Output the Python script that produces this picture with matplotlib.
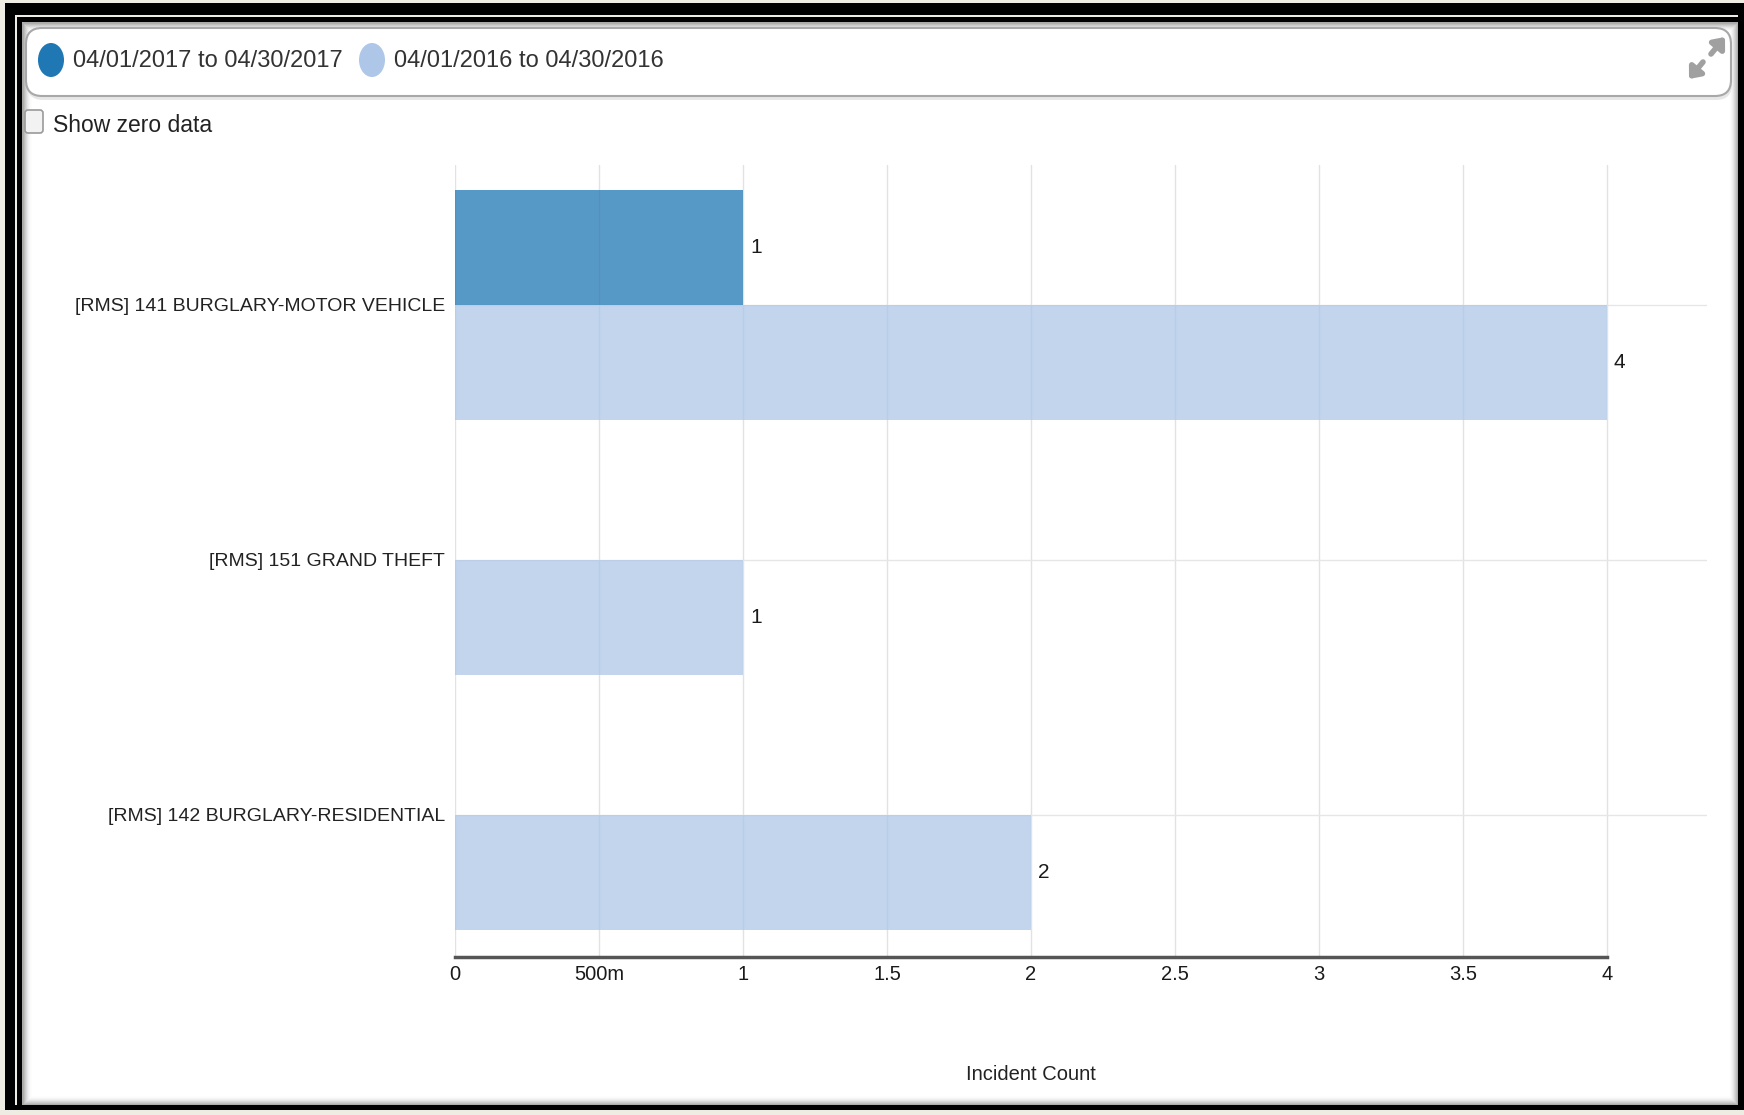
import matplotlib
matplotlib.use("Agg")
import matplotlib.pyplot as plt
from matplotlib.patches import Rectangle, FancyBboxPatch, Ellipse

plt.rcParams['font.family'] = ['Liberation Sans', 'DejaVu Sans']

# data
categories = ["[RMS] 141 BURGLARY-MOTOR VEHICLE",
              "[RMS] 151 GRAND THEFT",
              "[RMS] 142 BURGLARY-RESIDENTIAL"]
series_names = ["04/01/2017 to 04/30/2017", "04/01/2016 to 04/30/2016"]
counts_2017 = [1, 0, 0]
counts_2016 = [4, 1, 2]
xticks = [0, 0.5, 1, 1.5, 2, 2.5, 3, 3.5, 4]
xtick_labels = ["0", "500m", "1", "1.5", "2", "2.5", "3", "3.5", "4"]
colors = ["#1f77b4", "#aec7e8"]

W, H = 1744, 1115
fig = plt.figure(figsize=(W / 100, H / 100), dpi=100)
fig.patch.set_facecolor("#efece4")

# background / frame layer in pixel coords (y down)
bg = fig.add_axes([0, 0, 1, 1], zorder=0)
bg.set_xlim(0, W)
bg.set_ylim(H, 0)
bg.axis("off")

bg.add_patch(Rectangle((5, 3), W - 5, 1107, facecolor="black", lw=0))
bg.add_patch(Rectangle((15, 15), 1723, 1090, facecolor="#efece4", lw=0))
bg.add_patch(Rectangle((17, 17), 1721, 1088, facecolor="black", lw=0))
bg.add_patch(Rectangle((22, 22), 1716, 1083, facecolor="white", lw=0))
# inner shadow
for k in range(10):
    a = 0.30 * (1 - k / 10) ** 2
    bg.add_patch(Rectangle((22 + k, 22 + k), 1716 - 2 * k, 1083 - 2 * k,
                           facecolor="none", edgecolor="black", alpha=a, lw=1))

# legend box
bg.add_patch(FancyBboxPatch((27, 31), 1705, 69, boxstyle="round,pad=0,rounding_size=16",
                            facecolor="#d8d8d8", edgecolor="none", alpha=0.6))
bg.add_patch(FancyBboxPatch((26, 28), 1705, 68, boxstyle="round,pad=0,rounding_size=16",
                            facecolor="white", edgecolor="#a8a8a8", lw=1.5))
leg_x = [51, 372]
for cx, name, col in zip(leg_x, series_names, colors):
    bg.add_patch(Ellipse((cx, 60), 26, 34, facecolor=col, edgecolor="none"))
    bg.text(cx + 22, 61, name, fontsize=17, color="#333333", va="center", ha="left")

# expand icon
for (x0, y0, x1, y1) in [(1711, 54, 1725, 37), (1703, 62, 1689, 79)]:
    bg.annotate("", xy=(x1, y1), xytext=(x0, y0),
                arrowprops=dict(arrowstyle="-|>,head_width=0.5,head_length=0.6",
                                color="#a0a0a0", lw=4, shrinkA=0, shrinkB=0))

# show zero data checkbox
bg.add_patch(FancyBboxPatch((25, 110), 18, 23, boxstyle="round,pad=0,rounding_size=3",
                            facecolor="#f2f2f2", edgecolor="#9a9a9a", lw=1.2))
bg.text(53, 126, "Show zero data", fontsize=16.5, color="#222222", va="center", ha="left")

# chart
left, right, top, bottom = 455, 1707, 165, 957
ax = fig.add_axes([left / W, (H - bottom) / H, (right - left) / W, (bottom - top) / H], zorder=1)
ax.set_facecolor("none")
xmax = 4 * (right - left) / (1607 - left)
ax.set_xlim(0, xmax)
ax.set_ylim(2.557, -0.549)

bar_h = 0.45
ypos = list(range(len(categories)))
for x in xticks:
    ax.axvline(x, color="#e2e2e2", lw=1, zorder=0)
for y in ypos:
    ax.axhline(y, color="#e6e6e6", lw=1, zorder=0)

for vals, off, col in [(counts_2017, -bar_h / 2, colors[0]), (counts_2016, bar_h / 2, colors[1])]:
    for y, v in zip(ypos, vals):
        if v == 0:
            continue
        ax.barh(y + off, v, height=bar_h, color=col, alpha=0.75, lw=0, zorder=2)
        ax.annotate(str(v), xy=(v, y + off), xytext=(5, 0), textcoords="offset points",
                    va="center", ha="left", fontsize=15, color="#1a1a1a")

for s in ["top", "right", "left"]:
    ax.spines[s].set_visible(False)
ax.spines["bottom"].set_bounds(0, 4)
ax.spines["bottom"].set_color("#555555")
ax.spines["bottom"].set_linewidth(2.5)

ax.set_xticks(xticks)
ax.set_xticklabels(xtick_labels, fontsize=14.5, color="#1a1a1a")
ax.set_yticks(ypos)
ax.set_yticklabels(categories, fontsize=14, color="#222222")
ax.tick_params(axis="x", length=0, pad=6)
ax.tick_params(axis="y", length=0, pad=7)

ax.text(2, -0.148, "Incident Count", transform=ax.get_xaxis_transform(),
        ha="center", va="center", fontsize=14.5, color="#222222")

fig.savefig("out.png", dpi=100, facecolor=fig.get_facecolor())
